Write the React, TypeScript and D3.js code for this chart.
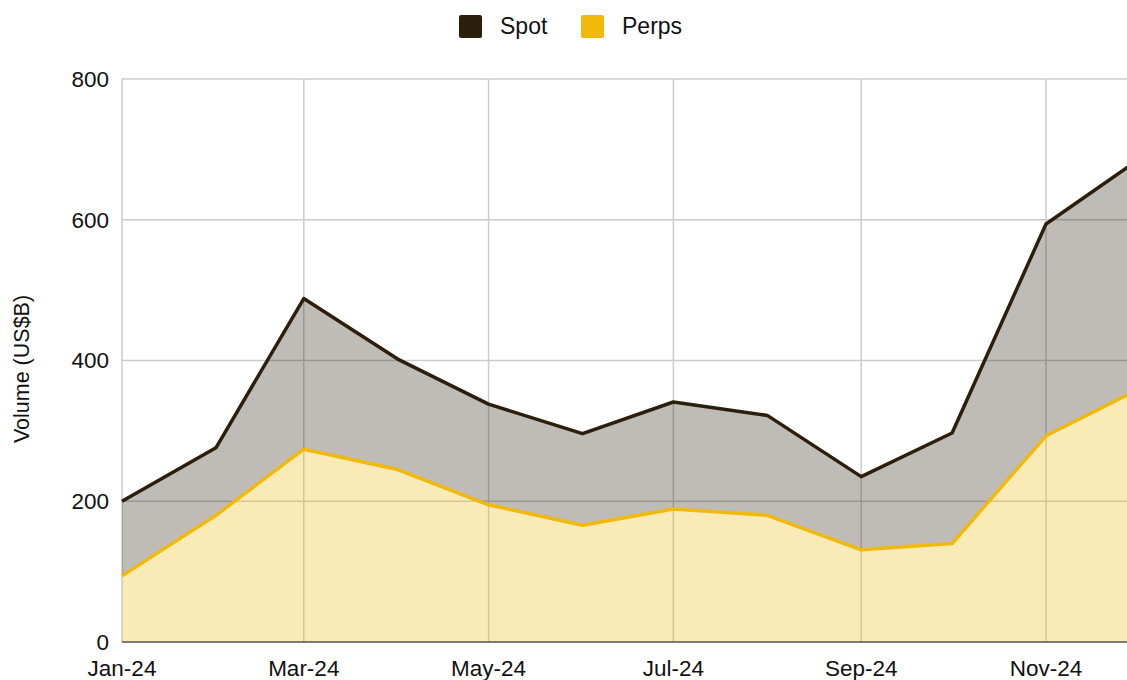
import React, { useEffect, useRef } from "react";
import * as d3 from "d3";

// monthly volume, US$B
const months = [
  "2024-01-01", "2024-02-01", "2024-03-01", "2024-04-01", "2024-05-01", "2024-06-01",
  "2024-07-01", "2024-08-01", "2024-09-01", "2024-10-01", "2024-11-01", "2024-12-01",
];
const perps = [94, 180, 274, 245, 195, 166, 189, 180, 131, 140, 293, 358];
const spot = [106, 96, 214, 157, 143, 130, 152, 142, 104, 157, 301, 326];
const yTicks = [0, 200, 400, 600, 800];
const xTickMonths = ["2024-01-01", "2024-03-01", "2024-05-01", "2024-07-01", "2024-09-01", "2024-11-01"];

const width = 1127;
const height = 680;
const font = "'Liberation Sans', Arial, sans-serif";
const textColor = "#111";

interface Row {
  date: Date;
  perps: number;
  spot: number;
}

const App: React.FC = () => {
  const ref = useRef<SVGSVGElement>(null);

  useEffect(() => {
    const svg = d3.select(ref.current);
    svg.selectAll("*").remove();

    const parse = d3.timeParse("%Y-%m-%d");
    const data: Row[] = months.map((m, i) => ({
      date: parse(m) as Date,
      perps: perps[i],
      spot: spot[i],
    }));

    const x = d3
      .scaleTime()
      .domain([parse("2024-01-01") as Date, parse("2024-11-01") as Date])
      .range([122, 1046]);
    const y = d3.scaleLinear().domain([0, 800]).range([642, 79]);

    const stack = d3.stack<Row>().keys(["perps", "spot"]);
    const series = stack(data);

    // grid
    const g = svg.append("g");
    g.selectAll(".hgrid")
      .data(yTicks.filter((t) => t > 0))
      .join("line")
      .attr("x1", 122)
      .attr("x2", width)
      .attr("y1", (d) => y(d))
      .attr("y2", (d) => y(d))
      .attr("stroke", "#cccccc")
      .attr("stroke-width", 1.5);
    g.selectAll(".vgrid")
      .data(xTickMonths.map((m) => parse(m) as Date))
      .join("line")
      .attr("x1", (d) => x(d))
      .attr("x2", (d) => x(d))
      .attr("y1", y(800))
      .attr("y2", y(0))
      .attr("stroke", "#cccccc")
      .attr("stroke-width", 1.5);

    const colors = ["#f0b90b", "#2b1f0c"];

    const area = d3
      .area<d3.SeriesPoint<Row>>()
      .x((d) => x(d.data.date))
      .y0((d) => y(d[0]))
      .y1((d) => y(d[1]));
    const line = d3
      .line<d3.SeriesPoint<Row>>()
      .x((d) => x(d.data.date))
      .y((d) => y(d[1]));

    series.forEach((s, i) => {
      svg
        .append("path")
        .datum(s)
        .attr("fill", colors[i])
        .attr("fill-opacity", 0.3)
        .attr("d", area);
    });
    // baseline
    svg
      .append("line")
      .attr("x1", 122)
      .attr("x2", width)
      .attr("y1", y(0))
      .attr("y2", y(0))
      .attr("stroke", "#555555")
      .attr("stroke-width", 1.5);
    series.forEach((s, i) => {
      svg
        .append("path")
        .datum(s)
        .attr("fill", "none")
        .attr("stroke", colors[i])
        .attr("stroke-width", 3.5)
        .attr("stroke-linejoin", "round")
        .attr("d", line);
    });

    // y tick labels
    svg
      .selectAll(".ylab")
      .data(yTicks)
      .join("text")
      .attr("x", 109)
      .attr("y", (d) => y(d))
      .attr("dy", "0.35em")
      .attr("text-anchor", "end")
      .attr("font-family", font)
      .attr("font-size", 22.5)
      .attr("fill", textColor)
      .text((d) => d);

    // x tick labels
    const fmt = d3.timeFormat("%b-%y");
    svg
      .selectAll(".xlab")
      .data(xTickMonths.map((m) => parse(m) as Date))
      .join("text")
      .attr("x", (d) => x(d))
      .attr("y", 676)
      .attr("text-anchor", "middle")
      .attr("font-family", font)
      .attr("font-size", 22.5)
      .attr("fill", textColor)
      .text((d) => fmt(d));

    // y axis title
    svg
      .append("text")
      .attr("transform", `translate(29,369) rotate(-90)`)
      .attr("text-anchor", "middle")
      .attr("font-family", font)
      .attr("font-size", 21.5)
      .attr("fill", textColor)
      .text("Volume (US$B)");

    // legend
    const legend = [
      { label: "Spot", color: colors[1], x: 459 },
      { label: "Perps", color: colors[0], x: 581 },
    ];
    legend.forEach((l) => {
      svg
        .append("rect")
        .attr("x", l.x)
        .attr("y", 15)
        .attr("width", 23)
        .attr("height", 23)
        .attr("rx", 2)
        .attr("fill", l.color);
      svg
        .append("text")
        .attr("x", l.x + 41)
        .attr("y", 34)
        .attr("font-family", font)
        .attr("font-size", 23)
        .attr("fill", textColor)
        .text(l.label);
    });
  }, []);

  return (
    <svg
      ref={ref}
      width={width}
      height={height}
      style={{ position: "absolute", left: 0, top: 0, background: "#fff" }}
    />
  );
};

export default App;
